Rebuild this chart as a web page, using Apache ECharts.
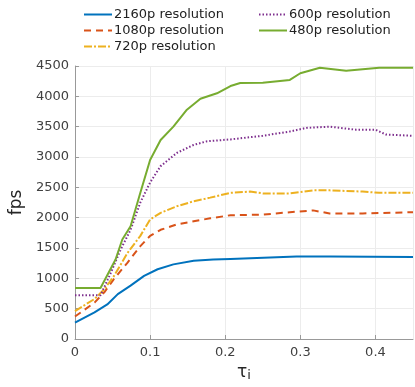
<!DOCTYPE html>
<html><head><meta charset="utf-8">
<script src="https://cdn.jsdelivr.net/npm/echarts@6/dist/echarts.min.js"></script>
<style>html,body{margin:0;padding:0;background:#fff}#c{width:415px;height:387px}</style>
</head><body><div id="c"></div>
<script>
const xTicks = [0, 0.1, 0.2, 0.3, 0.4];
const yTicks = [0, 500, 1000, 1500, 2000, 2500, 3000, 3500, 4000, 4500];

const t2160 = [0, .026, .043, .057, .074, .092, .11, .131, .158, .184, .207, .295, .34, .45];
const v2160 = [270, 440, 570, 740, 880, 1040, 1150, 1230, 1290, 1310, 1320, 1360, 1360, 1350];

const t1080 = [0, .026, .039, .052, .07, .087, .1, .114, .136, .158, .18, .207, .25, .286, .317, .339, .383, .45];
const v1080 = [370, 600, 770, 990, 1260, 1530, 1700, 1800, 1890, 1940, 1990, 2040, 2050, 2090, 2120, 2070, 2070, 2090];

const t720 = [0, .026, .039, .052, .07, .087, .1, .114, .136, .158, .18, .207, .233, .25, .286, .317, .339, .383, .405, .45];
const v720 = [460, 660, 820, 1040, 1420, 1700, 1970, 2080, 2190, 2270, 2330, 2410, 2430, 2400, 2400, 2450, 2450, 2430, 2410, 2410];

const t600 = [0, .034, .048, .061, .074, .087, .1, .114, .136, .158, .176, .207, .25, .286, .308, .339, .374, .4, .414, .45];
const v600 = [720, 720, 1100, 1480, 1800, 2250, 2580, 2850, 3070, 3200, 3260, 3290, 3350, 3420, 3480, 3500, 3450, 3450, 3370, 3350];

const t480 = [0, .034, .054, .063, .074, .087, .1, .114, .131, .149, .167, .189, .207, .22, .25, .286, .3, .326, .361, .405, .45];
const v480 = [840, 840, 1310, 1640, 1860, 2410, 2950, 3280, 3500, 3780, 3960, 4050, 4170, 4220, 4225, 4270, 4380, 4470, 4420, 4470, 4470];

const names = ['2160p resolution', '1080p resolution', '720p resolution', '600p resolution', '480p resolution'];
const pair = (t, v) => t.map((x, i) => [x, v[i]]);
const FONT = 'DejaVu Sans';

function mk(name, t, v, color, type) {
  return {
    name, type: 'line', data: pair(t, v), symbol: 'none', smooth: false,
    lineStyle: { color, width: 2, type }, itemStyle: { color }
  };
}

const legendText = { fontFamily: FONT, fontSize: 13, color: '#222', padding: [0, 0, 0, -3] };
const chart = echarts.init(document.getElementById('c'), null, { renderer: 'canvas' });
chart.setOption({
  animation: false,
  textStyle: { fontFamily: FONT },
  grid: { left: 74, right: 2, top: 66, bottom: 47 },
  legend: [
    { data: [names[0], names[1], names[2]], orient: 'vertical', left: 78, top: 3, itemGap: 3, itemWidth: 28, itemHeight: 14,
      itemStyle: { opacity: 0 }, textStyle: legendText },
    { data: [names[3], names[4]], orient: 'vertical', left: 253, top: 3, itemGap: 3, itemWidth: 28, itemHeight: 14,
      itemStyle: { opacity: 0 }, textStyle: legendText }
  ],
  xAxis: {
    type: 'value', min: 0, max: 0.45, interval: 0.1,
    name: '{t|τ}{s|i}', nameLocation: 'middle', nameGap: 24,
    nameTextStyle: { rich: { t: { fontFamily: FONT, fontSize: 17, color: '#262626' }, s: { fontFamily: FONT, fontSize: 13, color: '#262626', verticalAlign: 'bottom', padding: [6, 0, 0, 0] } } },
    axisLine: { lineStyle: { color: '#999' } },
    axisTick: { show: true, inside: true, length: 4, lineStyle: { color: '#999' } },
    axisLabel: { showMaxLabel: false, fontFamily: FONT, fontSize: 13, color: '#404040', margin: 7,
      formatter: v => xTicks.includes(Math.round(v * 10) / 10) ? String(Math.round(v * 10) / 10) : '' },
    splitLine: { show: true, lineStyle: { color: '#ececec' } }
  },
  yAxis: {
    type: 'value', min: 0, max: 4500, interval: 500,
    name: 'fps', nameLocation: 'middle', nameGap: 41, nameRotate: 90,
    nameTextStyle: { fontFamily: FONT, fontSize: 17, color: '#262626' },
    axisLine: { show: true, lineStyle: { color: '#999' } },
    axisTick: { show: true, inside: true, length: 4, lineStyle: { color: '#999' } },
    axisLabel: { fontFamily: FONT, fontSize: 13, color: '#404040', margin: 6,
      formatter: v => yTicks.includes(v) ? String(v) : '' },
    splitLine: { show: true, lineStyle: { color: '#ececec' } }
  },
  series: [
    mk(names[0], t2160, v2160, '#0072BD', 'solid'),
    mk(names[1], t1080, v1080, '#D95319', [7, 5]),
    mk(names[2], t720, v720, '#EDB120', [8, 2, 2, 2]),
    mk(names[3], t600, v600, '#7E2F8E', [1.5, 2]),
    mk(names[4], t480, v480, '#77AC30', 'solid')
  ]
});
</script></body></html>
